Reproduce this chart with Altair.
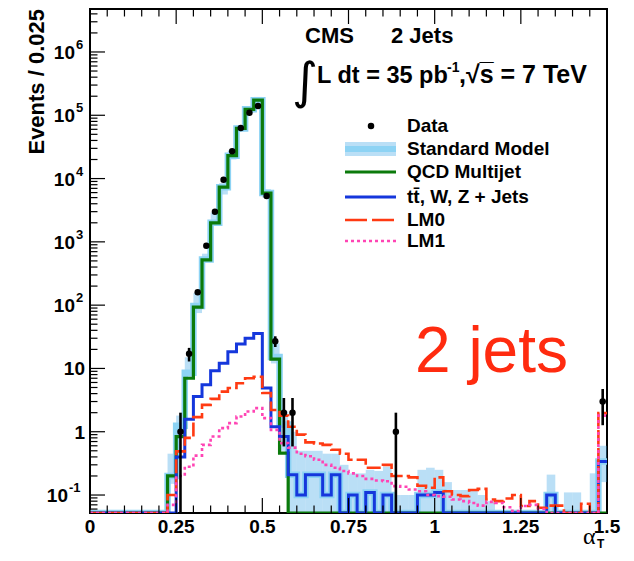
import altair as alt
import pandas as pd
import numpy as np

# ---------------- data ----------------
BIN_WIDTH = 0.025
bin_edges = [round(i * BIN_WIDTH, 3) for i in range(61)]   # 0 ... 1.5

qcd_multijet = [0, 0, 0, 0, 0, 0, 0, 0, 0, 0.2,
                0.84, 7.0, 93, 520, 2000, 7300, 23000, 62000, 124000, 173000,
                5900, 14, 0.46, 0, 0, 0, 0, 0, 0, 0,
                0, 0, 0, 0, 0, 0, 0, 0, 0, 0,
                0, 0, 0, 0, 0, 0, 0, 0, 0, 0,
                0, 0, 0, 0, 0, 0, 0, 0, 0, 0]

ewk_ttwz = [0, 0, 0, 0, 0, 0, 0, 0, 0, 0,
            0.4, 1.58, 3.6, 5.5, 9.2, 12.1, 18.4, 24.3, 29.9, 35.8,
            4.9, 1.2, 0.84, 0.21, 0.1, 0.21, 0.21, 0.1, 0.21, 0,
            0.1, 0, 0.11, 0, 0.1, 0, 0, 0, 0.1, 0.1,
            0.11, 0, 0, 0, 0, 0, 0, 0, 0, 0,
            0, 0, 0, 0.1, 0, 0, 0, 0, 0, 0.34]

lm0 = [0, 0, 0, 0, 0, 0, 0, 0, 0, 0.1,
       0.49, 0.8, 1.7, 2.66, 3.3, 4.3, 4.9, 5.85, 7.0, 7.4,
       4.1, 2.2, 1.8, 1.2, 0.9, 0.68, 0.65, 0.62, 0.52, 0.45,
       0.36, 0.36, 0.27, 0.27, 0.3, 0.2, 0.2, 0.19, 0.14, 0.13,
       0.19, 0.115, 0.1, 0.096, 0.12, 0.125, 0.085, 0.08, 0.088, 0.1,
       0.067, 0.08, 0.063, 0.068, 0.068, 0, 0, 0.073, 0, 1.97]

lm1 = [0, 0, 0, 0, 0, 0, 0, 0, 0, 0.07,
       0.2, 0.28, 0.42, 0.62, 0.84, 1.14, 1.37, 1.74, 2.09, 2.36,
       1.64, 1.07, 0.66, 0.56, 0.45, 0.41, 0.36, 0.30, 0.27, 0.24,
       0.22, 0.2, 0.18, 0.17, 0.165, 0.138, 0.135, 0.122, 0.115, 0.1,
       0.096, 0.094, 0.085, 0.08, 0.075, 0.068, 0.078, 0.075, 0.064, 0.056,
       0.067, 0.07, 0.06, 0, 0, 0, 0, 0, 0, 1.8]

data_counts = [0, 0, 0, 0, 0, 0, 0, 0, 0, 0,
               1, 17, 160, 870, 3000, 9600, 27000, 63000, 110000, 140000,
               5300, 27, 2, 2, 0, 0, 0, 0, 0, 0,
               0, 0, 0, 0, 0, 1, 0, 0, 0, 0,
               0, 0, 0, 0, 0, 0, 0, 0, 0, 0,
               0, 0, 0, 0, 0, 0, 0, 0, 0, 3]

sm_band_low = [0, 0, 0, 0, 0, 0, 0, 0, 0, 0.15,
               0.8, 7, 75, 470, 1800, 5600, 20000, 56000, 110000, 160000,
               5000, 12, 0.5, 0, 0, 0, 0, 0, 0, 0,
               0, 0, 0, 0, 0, 0, 0, 0, 0, 0,
               0, 0, 0, 0, 0, 0, 0, 0, 0, 0,
               0, 0, 0, 0, 0, 0, 0, 0, 0, 0.16]

sm_band_high = [0, 0, 0, 0, 0, 0, 0, 0, 0, 0.45,
                1.8, 15, 155, 650, 2900, 8500, 28000, 70000, 140000, 195000,
                6800, 25, 2.1, 1.0, 0.5, 0.5, 0.5, 0.45, 0.45, 0.3,
                0.22, 0.22, 0.25, 0.24, 0.28, 0.1, 0.1, 0.1, 0.25, 0.27,
                0.25, 0.16, 0.12, 0.12, 0.12, 0.1, 0.08, 0, 0, 0,
                0, 0, 0, 0.21, 0, 0.11, 0.11, 0, 0.22, 0.6]

x_tick_values = [0, 0.25, 0.5, 0.75, 1.0, 1.25, 1.5]
x_tick_labels = ["0", "0.25", "0.5", "0.75", "1", "1.25", "1.5"]
x_minor_ticks = [round(0.05 * i, 2) for i in range(1, 30) if i % 5]
y_decades = [-1, 0, 1, 2, 3, 4, 5, 6]
legend_labels = ["Data", "Standard Model", "QCD Multijet",
                 "tt\u0304, W, Z + Jets", "LM0", "LM1"]

# ---------------- style ----------------
W, H = 517, 504
YMIN = 10 ** -1.284
YMAX = 10 ** 6.679
SANS = "Liberation Sans"
GREEN = "#0b7a0b"
BLUE = "#1537dc"
RED = "#ff3a12"
PINK = "#ff44b4"
SM_LINE = "#8dd3f4"
BAND = "#3fa6e6"
BAND_OP = 0.36

xs = alt.Scale(domain=[0, 1.5], nice=False, zero=False)
ys = alt.Scale(type="log", domain=[YMIN, YMAX], nice=False)


def step_frame(values):
    v = np.array(list(values) + [values[-1]], dtype=float)
    return pd.DataFrame({"x": bin_edges, "y": np.maximum(v, YMIN)})


def step_line(values, color, width, dash=None):
    kw = dict(interpolate="step-after", color=color, strokeWidth=width, clip=True)
    if dash:
        kw["strokeDash"] = dash
    return alt.Chart(step_frame(values)).mark_line(**kw).encode(
        x=alt.X("x:Q", scale=xs, axis=None),
        y=alt.Y("y:Q", scale=ys, axis=None))


sm_total = [q + e for q, e in zip(qcd_multijet, ewk_ttwz)]

bins = pd.DataFrame({
    "lo": bin_edges[:-1], "hi": bin_edges[1:],
    "center": [e + BIN_WIDTH / 2 for e in bin_edges[:-1]],
    "band_lo": np.maximum(np.array(sm_band_low, float), YMIN),
    "band_hi": sm_band_high, "n": data_counts})
band_df = bins[bins.band_hi > 0]
pts = bins[bins.n > 0].copy()
pts["elo"] = np.maximum(pts.n - np.sqrt(pts.n), YMIN)
pts["ehi"] = pts.n + np.sqrt(pts.n)

band = alt.Chart(band_df).mark_rect(color=BAND, opacity=BAND_OP, clip=True).encode(
    x=alt.X("lo:Q", scale=xs, axis=None), x2="hi",
    y=alt.Y("band_lo:Q", scale=ys, axis=None), y2="band_hi")

err = alt.Chart(pts).mark_rule(color="black", strokeWidth=2.6, clip=True).encode(
    x=alt.X("center:Q", scale=xs, axis=None),
    y=alt.Y("elo:Q", scale=ys, axis=None), y2="ehi")
dots = alt.Chart(pts).mark_circle(color="black", size=42, opacity=1, clip=True).encode(
    x=alt.X("center:Q", scale=xs, axis=None),
    y=alt.Y("n:Q", scale=ys, axis=None))


# ticks pointing into the frame
def xticks(vals, length):
    df = pd.DataFrame({"v": vals})
    base = alt.Chart(df).mark_rule(color="black", strokeWidth=1.2)
    enc = dict(x=alt.X("v:Q", scale=xs, axis=None))
    return [base.encode(y=alt.value(H), y2=alt.value(H - length), **enc),
            base.encode(y=alt.value(0), y2=alt.value(length), **enc)]


def yticks(vals, length):
    df = pd.DataFrame({"v": vals})
    return alt.Chart(df).mark_rule(color="black", strokeWidth=1.2).encode(
        y=alt.Y("v:Q", scale=ys, axis=None), x=alt.value(0), x2=alt.value(length))


y_major = [10.0 ** d for d in y_decades]
y_minor = [m * 10.0 ** d for d in range(-2, 7) for m in range(2, 10)
           if YMIN < m * 10.0 ** d < YMAX]


def txt(text, x, y, size, weight="bold", color="black", align="left",
        baseline="alphabetic", font=SANS, angle=0):
    return alt.Chart(pd.DataFrame({"t": [text]})).mark_text(
        align=align, baseline=baseline, fontSize=size, fontWeight=weight,
        color=color, font=font, angle=angle).encode(
        x=alt.value(x), y=alt.value(y), text="t:N")


# x tick labels
xlab_df = pd.DataFrame({"v": x_tick_values, "t": x_tick_labels})
xlabels = alt.Chart(xlab_df).mark_text(
    align="center", baseline="top", fontSize=19, fontWeight="bold",
    font=SANS, color="black").encode(
    x=alt.X("v:Q", scale=xs, axis=None), y=alt.value(H + 5), text="t:N")

# y tick labels
plain = pd.DataFrame({"v": [1.0, 10.0], "t": ["1", "10"]})
pos = pd.DataFrame({"v": [10.0 ** d for d in y_decades if d >= 2],
                    "b": ["10"] * 5, "e": [str(d) for d in y_decades if d >= 2]})
neg = pd.DataFrame({"v": [10.0 ** d for d in y_decades if d < 0],
                    "b": ["10"], "e": [str(d) for d in y_decades if d < 0]})


def ylab(df, field, x, size, align, dy):
    return alt.Chart(df).mark_text(align=align, baseline="middle", fontSize=size,
                                   fontWeight="bold", font=SANS, color="black", dy=dy).encode(
        y=alt.Y("v:Q", scale=ys, axis=None), x=alt.value(x), text=f"{field}:N")


ylabels = [ylab(plain, "t", -5, 19, "right", 1),
           ylab(pos, "b", -15, 19, "right", 1),
           ylab(pos, "e", -14, 13, "left", -7),
           ylab(neg, "b", -22, 19, "right", 1),
           ylab(neg, "e", -21, 13, "left", -7)]

# legend (drawn by hand, ROOT style)
one = pd.DataFrame({"a": [0]})
LX0, LX1, LT = 255, 306, 317
rows = [117, 140, 163, 188, 211, 232]
legend = [
    alt.Chart(one).mark_circle(color="black", size=42, opacity=1).encode(
        x=alt.value(281), y=alt.value(rows[0])),
    alt.Chart(one).mark_rect(color=BAND, opacity=BAND_OP).encode(
        x=alt.value(LX0), x2=alt.value(LX1), y=alt.value(rows[1] - 7), y2=alt.value(rows[1] + 7)),
    alt.Chart(one).mark_rule(color=SM_LINE, strokeWidth=6).encode(
        x=alt.value(LX0), x2=alt.value(LX1), y=alt.value(rows[1])),
    alt.Chart(one).mark_rule(color=GREEN, strokeWidth=3).encode(
        x=alt.value(LX0), x2=alt.value(LX1), y=alt.value(rows[2])),
    alt.Chart(one).mark_rule(color=BLUE, strokeWidth=3).encode(
        x=alt.value(LX0), x2=alt.value(LX1), y=alt.value(rows[3])),
    alt.Chart(one).mark_rule(color=RED, strokeWidth=2.6, strokeDash=[22, 5]).encode(
        x=alt.value(LX0), x2=alt.value(LX1), y=alt.value(rows[4])),
    alt.Chart(one).mark_rule(color=PINK, strokeWidth=2.6, strokeDash=[3, 3]).encode(
        x=alt.value(LX0), x2=alt.value(LX1), y=alt.value(rows[5])),
]
for lab, ry in zip(legend_labels, rows):
    legend.append(txt(lab, LT, ry, 19, baseline="middle"))

annotations = [
    txt("Events / 0.025", -53, 0, 22, align="right", baseline="middle", angle=270),
    txt("CMS", 215, 34, 22),
    txt("2 Jets", 301, 34, 22),
    txt("\u222b", 215, 74, 50, align="center", baseline="middle", font="DejaVu Sans", weight="normal"),
    txt("L dt = 35 pb", 227, 74, 23.5),
    txt("-1", 357, 63, 14),
    txt(",\u221as\u0305 = 7 TeV", 369, 74, 25),
    txt("2 jets", 325, 363, 64, weight="normal", color="#ff2b0f"),
    txt("\u03b1", 493, 535, 24, weight="normal", font="Liberation Serif"),
    txt("T", 507, 539, 12),
]

layers = [band,
          step_line(sm_total, SM_LINE, 6.5),
          step_line(qcd_multijet, GREEN, 3.2),
          step_line(ewk_ttwz, BLUE, 3.0),
          step_line(lm0, RED, 2.6, [14, 4]),
          step_line(lm1, PINK, 2.6, [3, 3]),
          err, dots]
layers += xticks(x_tick_values, 15) + xticks(x_minor_ticks, 7.5)
layers += [yticks(y_major, 15), yticks(y_minor, 7.5)]
layers += [xlabels] + ylabels + legend + annotations

chart = alt.layer(*layers).properties(
    width=W, height=H,
    autosize=alt.AutoSizeParams(type="none"),
    padding={"left": 82, "top": 1, "right": 19, "bottom": 40},
    background="white",
).configure_view(stroke="black", strokeWidth=2)

chart.save("out.html", embed_options={"renderer": "svg", "actions": False})
